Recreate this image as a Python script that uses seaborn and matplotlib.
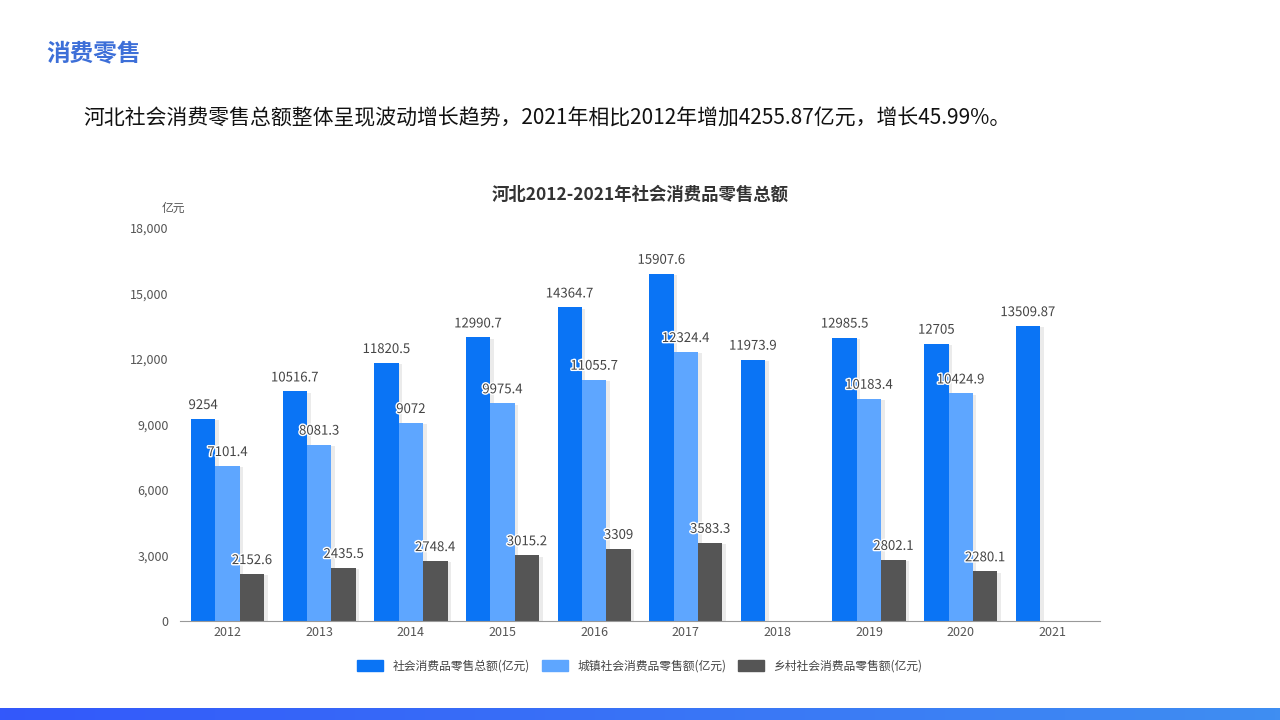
import numpy as np
import pandas as pd
import seaborn as sns
import matplotlib.pyplot as plt
import matplotlib.patheffects as pe
from matplotlib.patches import Patch
from matplotlib.colors import LinearSegmentedColormap

# datos
anios = ['2012', '2013', '2014', '2015', '2016', '2017', '2018', '2019', '2020', '2021']
total = [9254, 10516.7, 11820.5, 12990.7, 14364.7, 15907.6, 11973.9, 12985.5, 12705, 13509.87]
urbano = [7101.4, 8081.3, 9072, 9975.4, 11055.7, 12324.4, np.nan, 10183.4, 10424.9, np.nan]
rural = [2152.6, 2435.5, 2748.4, 3015.2, 3309, 3583.3, np.nan, 2802.1, 2280.1, np.nan]
series = ['社会消费品零售总额(亿元)', '城镇社会消费品零售额(亿元)', '乡村社会消费品零售额(亿元)']
colores = ['#0a74f5', '#5ea6ff', '#555555']
etiquetas = {
    series[0]: ['9254', '10516.7', '11820.5', '12990.7', '14364.7', '15907.6', '11973.9', '12985.5', '12705', '13509.87'],
    series[1]: ['7101.4', '8081.3', '9072', '9975.4', '11055.7', '12324.4', '', '10183.4', '10424.9', ''],
    series[2]: ['2152.6', '2435.5', '2748.4', '3015.2', '3309', '3583.3', '', '2802.1', '2280.1', ''],
}

df = pd.DataFrame({
    'anio': anios * 3,
    'serie': [series[0]] * 10 + [series[1]] * 10 + [series[2]] * 10,
    'valor': total + urbano + rural,
})

sns.set_style('white')
plt.rcParams['font.family'] = ['Noto Sans CJK SC', 'DejaVu Sans']

fig = plt.figure(figsize=(12.8, 7.2), dpi=100)
ax = fig.add_axes([0.1406, 0.1375, 0.7188, 0.5458])

sns.barplot(data=df, x='anio', y='valor', hue='serie', palette=colores,
            order=anios, hue_order=series, width=0.8, saturation=1, linewidth=0,
            ax=ax, legend=False)

sombra = [pe.SimplePatchShadow(offset=(2.5, -1), shadow_rgbFace='#000000', alpha=0.08), pe.Normal()]
contorno = [pe.withStroke(linewidth=2, foreground='white')]
for cont, s in zip(ax.containers, series):
    for barra in cont:
        if barra is None or np.isnan(barra.get_height()):
            continue
        xc = barra.get_x() + barra.get_width() / 2
        txt = etiquetas[s][int(round(xc))]
        if txt == '':
            continue
        barra.set_linewidth(0)
        barra.set_path_effects(sombra)
        ax.annotate(txt, (xc, barra.get_height()),
                    xytext=(0, 5), textcoords='offset points', ha='center', va='bottom',
                    fontsize=9.5, color='#444444', path_effects=contorno)

ax.set_xlim(-0.52, 9.52)
ax.set_ylim(0, 18000)
ax.set_yticks(range(0, 18001, 3000))
ax.set_yticklabels([f'{v:,}' for v in range(0, 18001, 3000)])
ax.tick_params(axis='both', labelsize=9, colors='#555555', length=0)
ax.tick_params(axis='y', pad=8)
ax.set_xlabel('')
ax.set_ylabel('')
sns.despine(ax=ax, left=True)
ax.spines['bottom'].set_color('#999999')
ax.text(-0.02, 1.04, '亿元', transform=ax.transAxes, fontsize=8.5, color='#555555', ha='left')

handles = [Patch(facecolor=c, edgecolor=c, label=s) for c, s in zip(colores, series)]
fig.legend(handles=handles, loc='center', bbox_to_anchor=(0.5, 0.075), ncol=3, frameon=False,
           fontsize=8.5, handlelength=2.2, handleheight=1.1, columnspacing=1.0, labelcolor='#444444')

fig.text(0.5, 0.73, '河北2012-2021年社会消费品零售总额', ha='center', va='center',
         fontsize=12.5, fontweight='bold', color='#333333')
fig.text(0.036, 0.925, '消费零售', ha='left', va='center', fontsize=17, fontweight='bold', color='#3d6fd8')
fig.text(0.065, 0.836, '河北社会消费零售总额整体呈现波动增长趋势，2021年相比2012年增加4255.87亿元，增长45.99%。',
         ha='left', va='center', fontsize=15, color='#111111')

# franja degradada inferior
franja = fig.add_axes([0, 0, 1, 0.0167])
grad = np.linspace(0, 1, 256).reshape(1, -1)
cmap = LinearSegmentedColormap.from_list('franja', ['#3358fb', '#3f8ef2'])
franja.imshow(grad, aspect='auto', cmap=cmap)
franja.axis('off')

fig.savefig('out.png', dpi=100)
